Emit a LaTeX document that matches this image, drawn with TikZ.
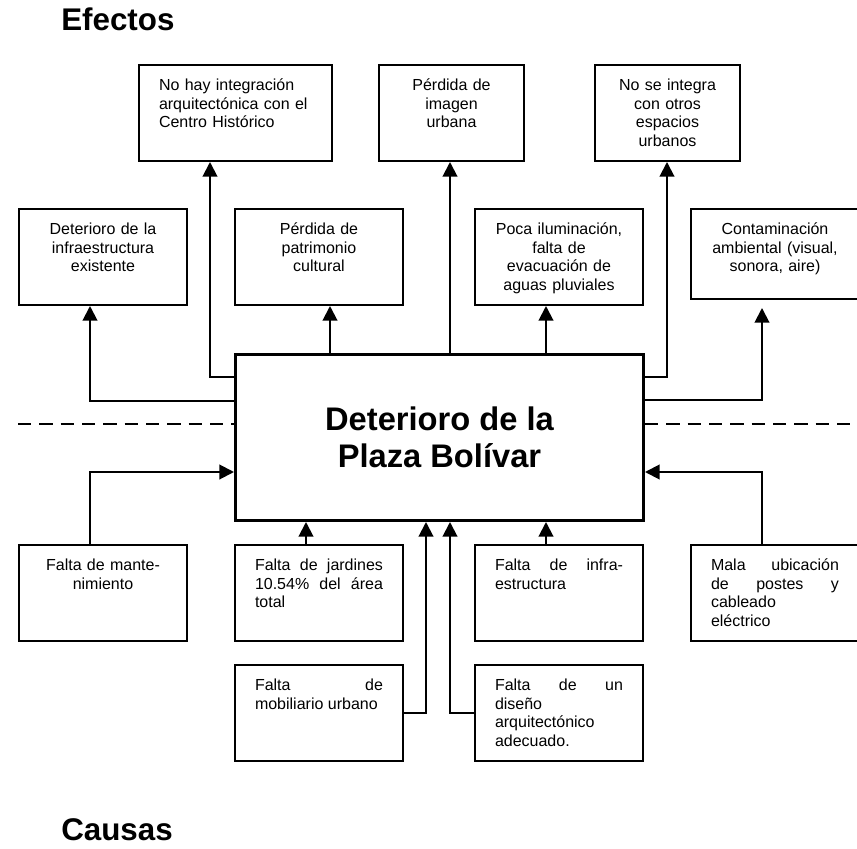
\documentclass[tikz,border=0pt]{standalone}
\usepackage{fontspec}
\setmainfont{Liberation Sans}
\usepackage{tikz}
\usetikzlibrary{arrows.meta,calc}

\begin{document}
\begin{tikzpicture}[
  x=0.75pt,y=-0.75pt,
  every node/.style={inner sep=0pt},
  cell/.style={draw,line width=1.5pt,anchor=north west,
               inner xsep=15pt,inner ysep=0pt,
               text width=96pt,text height=19pt,text depth=53pt,
               font=\fontsize{12}{14.1}\selectfont,align=center},
  narrow/.style={cell,text width=78.75pt},
  justified/.style={cell,align=justify},
  problem/.style={draw,line width=2.25pt,anchor=north west,
                  minimum width=306pt,minimum height=124.5pt,align=center,
                  font=\fontsize{24.5}{27.75}\selectfont\bfseries},
  heading/.style={anchor=base west,font=\fontsize{23.5}{28}\selectfont\bfseries},
  arr/.style={-{Triangle[length=11pt,width=11pt]},line width=1.5pt},
  divider/.style={line width=1.1pt,dash pattern=on 10pt off 6pt}
]
\useasboundingbox (0,0) rectangle (857,849);

\node[heading] (efectos) at (61,31) {Efectos};
\node[heading] (causas) at (61,840) {Causas};

% efectos
\node[cell] (e1) at (18,208) {Deterioro de la\\infraestructura\\existente};
\node[cell,text width=114.75pt,align=left] (e2) at (138,64)
  {No hay integración\\arquitectónica con el\\Centro Histórico};
\node[cell] (e3) at (234,208) {Pérdida de\\patrimonio\\cultural};
\node[narrow] (e4) at (378,64) {Pérdida de\\imagen\\urbana};
\node[cell] (e5) at (474,208) {Poca iluminación,\\falta de\\evacuación de\\aguas pluviales};
\node[narrow] (e6) at (594,64) {No se integra\\con otros\\espacios\\urbanos};
\node[cell,text depth=48.5pt] (e7) at (690,208) {Contaminación\\ambiental (visual,\\sonora, aire)};

\node[problem] (plaza) at (234,353) {Deterioro de la\\Plaza Bolívar};

% causas
\node[cell] (c1) at (18,544) {Falta de mante-\\nimiento};
\node[justified] (c2) at (234,544) {Falta de jardines\linebreak 10.54\% del área\linebreak total};
\node[justified] (c3) at (234,664) {Falta de\linebreak mobiliario urbano};
\node[justified] (c5) at (474,544) {Falta de infra-\linebreak estructura};
\node[justified] (c4) at (474,664) {Falta de un\linebreak diseño\linebreak arquitectónico\linebreak adecuado.};
\node[justified] (c6) at (690,544) {Mala ubicación\linebreak de postes y\linebreak cableado\linebreak eléctrico};

\draw[arr] (plaza.west |- 0,401) -| (e1.south -| 90,0);
\draw[arr] (plaza.west |- 0,377) -| (e2.south -| 210,0);
\draw[arr] (plaza.north -| 330,0) -- (e3.south -| 330,0);
\draw[arr] (plaza.north -| 450,0) -- (e4.south -| 450,0);
\draw[arr] (plaza.north -| 546,0) -- (e5.south -| 546,0);
\draw[arr] (plaza.east |- 0,377) -| (e6.south -| 667,0);
\draw[arr,shorten >=6pt] (plaza.east |- 0,400) -| (e7.south -| 762,0);

\draw[arr] (c1.north -| 90,0) |- (plaza.west |- 0,472);
\draw[arr] (c2.north -| 306,0) -- (plaza.south -| 306,0);
\draw[arr] (c3.east) -| (plaza.south -| 426,0);
\draw[arr] (c4.west) -| (plaza.south -| 450,0);
\draw[arr] (c5.north -| 546,0) -- (plaza.south -| 546,0);
\draw[arr] (c6.north -| 762,0) |- (plaza.east |- 0,472);

\coordinate (dl) at (18,424);
\coordinate (dr) at (857,424);
\draw[divider] (dl) -- (plaza.west |- dl);
\draw[divider] (plaza.east |- dr) -- (dr);
\end{tikzpicture}
\end{document}
